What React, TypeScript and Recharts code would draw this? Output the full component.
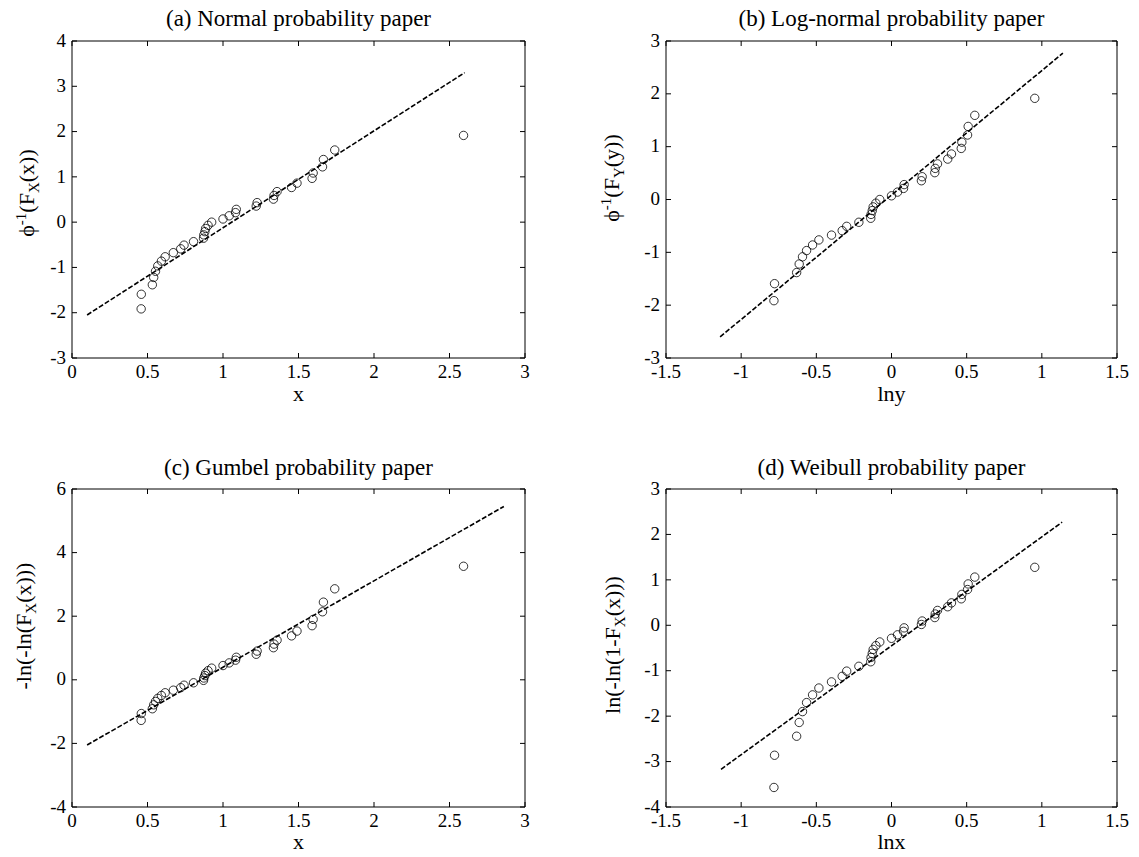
import { ScatterChart, Scatter, XAxis, YAxis, ReferenceLine } from "recharts";

const FONT = '"Liberation Serif", "Times New Roman", serif';

// sorted sample (35 values) and its log
const sampleX = [
  0.458, 0.459, 0.532, 0.541, 0.553, 0.568, 0.592, 0.617, 0.671, 0.72, 0.742, 0.805,
  0.871, 0.873, 0.88, 0.885, 0.901, 0.925, 1.0, 1.041, 1.083, 1.088, 1.22, 1.226,
  1.334, 1.338, 1.358, 1.454, 1.49, 1.59, 1.597, 1.659, 1.665, 1.74, 2.593,
];
const sampleLnX = [
  -0.782, -0.778, -0.631, -0.614, -0.592, -0.565, -0.525, -0.483, -0.399, -0.328, -0.298,
  -0.217, -0.138, -0.136, -0.128, -0.122, -0.104, -0.078, 0.0, 0.04, 0.08, 0.084, 0.199,
  0.204, 0.288, 0.291, 0.306, 0.374, 0.399, 0.464, 0.468, 0.506, 0.51, 0.554, 0.953,
];

// reduced variates
const normalScore = [
  -1.915, -1.593, -1.383, -1.221, -1.085, -0.967, -0.861, -0.765, -0.674, -0.589, -0.508,
  -0.431, -0.355, -0.282, -0.21, -0.14, -0.07, 0.0, 0.07, 0.14, 0.21, 0.282, 0.355, 0.431,
  0.508, 0.589, 0.674, 0.765, 0.861, 0.967, 1.085, 1.221, 1.383, 1.593, 1.915,
];
const gumbelScore = [
  -1.276, -1.061, -0.91, -0.787, -0.68, -0.583, -0.493, -0.408, -0.327, -0.248, -0.17,
  -0.094, -0.018, 0.057, 0.133, 0.21, 0.287, 0.367, 0.448, 0.531, 0.618, 0.708, 0.803,
  0.903, 1.009, 1.123, 1.246, 1.381, 1.532, 1.702, 1.9, 2.139, 2.442, 2.861, 3.57,
];
const weibullScore = [
  -3.57, -2.861, -2.442, -2.139, -1.9, -1.702, -1.532, -1.381, -1.246, -1.123, -1.009,
  -0.903, -0.803, -0.708, -0.618, -0.531, -0.448, -0.367, -0.287, -0.21, -0.133, -0.057,
  0.018, 0.094, 0.17, 0.248, 0.327, 0.408, 0.493, 0.583, 0.68, 0.787, 0.91, 1.061, 1.276,
];

// fitted lines (end points)
const fitNormal = [{ x: 0.1, y: -2.05 }, { x: 2.6, y: 3.3 }];
const fitLogNormal = [{ x: -1.14, y: -2.6 }, { x: 1.14, y: 2.77 }];
const fitGumbel = [{ x: 0.1, y: -2.05 }, { x: 2.86, y: 5.45 }];
const fitWeibull = [{ x: -1.134, y: -3.17 }, { x: 1.135, y: 2.27 }];

const ticksX03 = [0, 0.5, 1, 1.5, 2, 2.5, 3];
const ticksXln = [-1.5, -1, -0.5, 0, 0.5, 1, 1.5];
const ticksYa = [-3, -2, -1, 0, 1, 2, 3, 4];
const ticksYb = [-3, -2, -1, 0, 1, 2, 3];
const ticksYc = [-4, -2, 0, 2, 4, 6];
const ticksYd = [-4, -3, -2, -1, 0, 1, 2, 3];

const toPoints = (xs: number[], ys: number[]) => xs.map((x, i) => ({ x, y: ys[i] }));

const YW = 40;
const XH = 30;

function XTick(props: any) {
  const { x, y, payload, plotH } = props;
  return (
    <g>
      <line x1={x} x2={x} y1={y} y2={y - 5} stroke="#000" />
      <line x1={x} x2={x} y1={y - plotH} y2={y - plotH + 5} stroke="#000" />
      <text x={x} y={y + 20} textAnchor="middle" fontSize={19} fontFamily={FONT} fill="#000">
        {payload.value}
      </text>
    </g>
  );
}

function YTick(props: any) {
  const { x, y, payload, plotW } = props;
  return (
    <g>
      <line x1={x} x2={x + 5} y1={y} y2={y} stroke="#000" />
      <line x1={x + plotW} x2={x + plotW - 5} y1={y} y2={y} stroke="#000" />
      <text x={x - 6} y={y - 1} dy="0.35em" textAnchor="end" fontSize={19} fontFamily={FONT} fill="#000">
        {payload.value}
      </text>
    </g>
  );
}

const circle = (p: any) => (
  <circle cx={p.cx} cy={p.cy} r={4.2} fill="none" stroke="#000" strokeWidth={0.8} />
);
const nothing = () => <g />;

type PanelProps = {
  left: number;
  top: number;
  plotW: number;
  plotH: number;
  xDomain: [number, number];
  yDomain: [number, number];
  xTicks: number[];
  yTicks: number[];
  points: { x: number; y: number }[];
  fit: { x: number; y: number }[];
};

function Panel({ left, top, plotW, plotH, xDomain, yDomain, xTicks, yTicks, points, fit }: PanelProps) {
  const mLeft = 72;
  const mTop = 41;
  const extraR = 20;
  const extraB = 70;
  return (
    <div style={{ position: "absolute", left: left - mLeft, top: top - mTop }}>
      <ScatterChart
        width={plotW + mLeft + extraR}
        height={plotH + mTop + extraB}
        margin={{ top: mTop, right: extraR, left: mLeft - YW, bottom: extraB - XH }}
      >
        <XAxis
          type="number"
          dataKey="x"
          domain={xDomain}
          ticks={xTicks}
          interval={0}
          allowDataOverflow
          height={XH}
          tickSize={0}
          tickMargin={0}
          axisLine={{ stroke: "#000" }}
          tick={<XTick plotH={plotH} />}
        />
        <YAxis
          type="number"
          dataKey="y"
          domain={yDomain}
          ticks={yTicks}
          interval={0}
          allowDataOverflow
          width={YW}
          tickSize={0}
          tickMargin={0}
          axisLine={{ stroke: "#000" }}
          tick={<YTick plotW={plotW} />}
        />
        <ReferenceLine x={xDomain[1]} stroke="#000" />
        <ReferenceLine y={yDomain[1]} stroke="#000" />
        <Scatter
          data={fit}
          line={{ stroke: "#000", strokeWidth: 1.6, strokeDasharray: "5 2" }}
          shape={nothing}
          isAnimationActive={false}
        />
        <Scatter data={points} shape={circle} isAnimationActive={false} />
      </ScatterChart>
    </div>
  );
}

const txt = { fontFamily: FONT, fill: "#000" } as const;

export default function App() {
  return (
    <div style={{ position: "absolute", left: 0, top: 0, width: 1139, height: 857, background: "#fff" }}>
      <Panel left={72} top={41} plotW={453} plotH={317} xDomain={[0, 3]} yDomain={[-3, 4]}
        xTicks={ticksX03} yTicks={ticksYa} points={toPoints(sampleX, normalScore)} fit={fitNormal} />
      <Panel left={666} top={41} plotW={451} plotH={317} xDomain={[-1.5, 1.5]} yDomain={[-3, 3]}
        xTicks={ticksXln} yTicks={ticksYb} points={toPoints(sampleLnX, normalScore)} fit={fitLogNormal} />
      <Panel left={72} top={489} plotW={453} plotH={318} xDomain={[0, 3]} yDomain={[-4, 6]}
        xTicks={ticksX03} yTicks={ticksYc} points={toPoints(sampleX, gumbelScore)} fit={fitGumbel} />
      <Panel left={666} top={489} plotW={451} plotH={318} xDomain={[-1.5, 1.5]} yDomain={[-4, 3]}
        xTicks={ticksXln} yTicks={ticksYd} points={toPoints(sampleLnX, weibullScore)} fit={fitWeibull} />

      <svg width={1139} height={857} style={{ position: "absolute", left: 0, top: 0, pointerEvents: "none" }}>
        <g fontSize={23} textAnchor="middle" {...txt}>
          <text x={298.5} y={26}>(a) Normal probability paper</text>
          <text x={891.5} y={26}>(b) Log-normal probability paper</text>
          <text x={298.5} y={475}>(c) Gumbel probability paper</text>
          <text x={891.5} y={475}>(d) Weibull probability paper</text>
        </g>
        <g fontSize={22} textAnchor="middle" {...txt}>
          <text x={298.5} y={401}>x</text>
          <text x={891.5} y={401}>lny</text>
          <text x={298.5} y={849}>x</text>
          <text x={891.5} y={849}>lnx</text>
        </g>
        <g fontSize={22} textAnchor="middle" {...txt}>
          <text x={34} y={193} transform="rotate(-90 34 193)">
            ϕ<tspan dy={-8} fontSize={15}>-1</tspan>
            <tspan dy={8}>(F</tspan>
            <tspan dy={5} fontSize={15}>X</tspan>
            <tspan dy={-5}>(x))</tspan>
          </text>
          <text x={619} y={178} transform="rotate(-90 619 178)">
            ϕ<tspan dy={-8} fontSize={15}>-1</tspan>
            <tspan dy={8}>(F</tspan>
            <tspan dy={5} fontSize={15}>Y</tspan>
            <tspan dy={-5}>(y))</tspan>
          </text>
          <text x={31} y={626} transform="rotate(-90 31 626)">
            -ln(-ln(F<tspan dy={5} fontSize={15}>X</tspan>
            <tspan dy={-5}>(x)))</tspan>
          </text>
          <text x={620} y={645} transform="rotate(-90 620 645)">
            ln(-ln(1-F<tspan dy={5} fontSize={15}>X</tspan>
            <tspan dy={-5}>(x)))</tspan>
          </text>
        </g>
      </svg>
    </div>
  );
}
